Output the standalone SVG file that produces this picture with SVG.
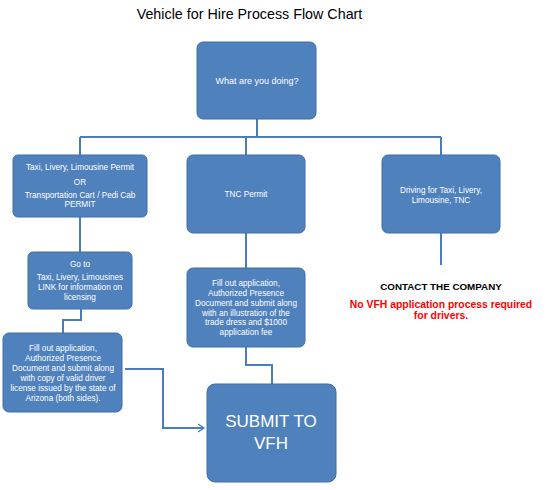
<svg xmlns="http://www.w3.org/2000/svg" width="555" height="490" viewBox="0 0 555 490">
<style>
.box{fill:#4F81BD;stroke:#3F6FA8;stroke-width:1}
.t{font-family:"Liberation Sans",Arial,sans-serif;font-size:8.2px;fill:#ffffff;text-anchor:middle}
.line{fill:none;stroke:#4A7EBB;stroke-width:2}
</style>
<defs>
<marker id="arr" markerWidth="10" markerHeight="10" refX="7" refY="5" orient="auto" markerUnits="userSpaceOnUse">
<path d="M1,1 L7,5 L1,9" fill="none" stroke="#4A7EBB" stroke-width="1.5"/>
</marker>
</defs>
<rect width="555" height="490" fill="#ffffff"/>
<text x="249.5" y="19" font-family="'Liberation Sans',Arial,sans-serif" font-size="14.3" text-anchor="middle" fill="#000000">Vehicle for Hire Process Flow Chart</text>
<g id="connectors">
<path class="line" d="M257,119 V137"/>
<path class="line" d="M80,137 H441"/>
<path class="line" d="M80,137 V155"/>
<path class="line" d="M246,137 V155"/>
<path class="line" d="M441,137 V155"/>
<path class="line" d="M80,217 V252"/>
<path class="line" d="M246,233 V268"/>
<path class="line" d="M441,233 V265"/>
<path class="line" d="M81,309 V320 H63 V333"/>
<path class="line" d="M246,347 V365 H272 V384"/>
<path class="line" d="M125,369 H163 V428 H204" marker-end="url(#arr)"/>
</g>
<g id="n-what">
<rect class="box" x="197" y="42" width="119" height="77" rx="6"/>
<text class="t" x="257" y="84" style="font-size:9px">What are you doing?</text>
</g>
<g id="n-taxi">
<rect class="box" x="13" y="155" width="134" height="62" rx="5"/>
<text class="t" x="80" y="170">Taxi, Livery, Limousine Permit</text>
<text class="t" x="80" y="185">OR</text>
<text class="t" x="80" y="198">Transportation Cart / Pedi Cab</text>
<text class="t" x="80" y="207">PERMIT</text>
</g>
<g id="n-tnc">
<rect class="box" x="187" y="155" width="118" height="78" rx="6"/>
<text class="t" x="246" y="197">TNC Permit</text>
</g>
<g id="n-driving">
<rect class="box" x="382" y="155" width="118" height="78" rx="6"/>
<text class="t" x="441" y="193">Driving for Taxi, Livery,</text>
<text class="t" x="441" y="203">Limousine, TNC</text>
</g>
<g id="n-goto">
<rect class="box" x="28" y="252" width="104" height="57" rx="5"/>
<text class="t" x="80" y="267">Go to</text>
<text class="t" x="80" y="280">Taxi, Livery, Limousines</text>
<text class="t" x="80" y="290">LINK for information on</text>
<text class="t" x="80" y="300">licensing</text>
</g>
<g id="n-fill-left">
<rect class="box" x="3" y="333" width="119" height="79" rx="6"/>
<text class="t" x="63" y="351">Fill out application,</text>
<text class="t" x="63" y="361">Authorized Presence</text>
<text class="t" x="63" y="371">Document and submit along</text>
<text class="t" x="63" y="381">with copy of valid driver</text>
<text class="t" x="63" y="391">license issued by the state of</text>
<text class="t" x="63" y="401">Arizona (both sides).</text>
</g>
<g id="n-fill-tnc">
<rect class="box" x="187" y="268" width="118" height="79" rx="6"/>
<text class="t" x="246" y="286">Fill out application,</text>
<text class="t" x="246" y="296">Authorized Presence</text>
<text class="t" x="246" y="306">Document and submit along</text>
<text class="t" x="246" y="316">with an illustration of the</text>
<text class="t" x="246" y="325">trade dress and $1000</text>
<text class="t" x="246" y="335">application fee</text>
</g>
<g id="n-submit">
<rect class="box" x="207" y="384" width="129" height="98" rx="8"/>
<text class="t" x="271" y="427" style="font-size:17px">SUBMIT TO</text>
<text class="t" x="271" y="449" style="font-size:17px">VFH</text>
</g>
<g id="n-contact">
<text x="441" y="290" font-family="'Liberation Sans',Arial,sans-serif" font-size="9.8" font-weight="bold" text-anchor="middle" fill="#000000">CONTACT THE COMPANY</text>
<text x="441" y="307.5" font-family="'Liberation Sans',Arial,sans-serif" font-size="10.4" font-weight="bold" text-anchor="middle" fill="#FF0000">No VFH application process required</text>
<text x="441" y="319" font-family="'Liberation Sans',Arial,sans-serif" font-size="10.4" font-weight="bold" text-anchor="middle" fill="#FF0000">for drivers.</text>
</g>
</svg>
